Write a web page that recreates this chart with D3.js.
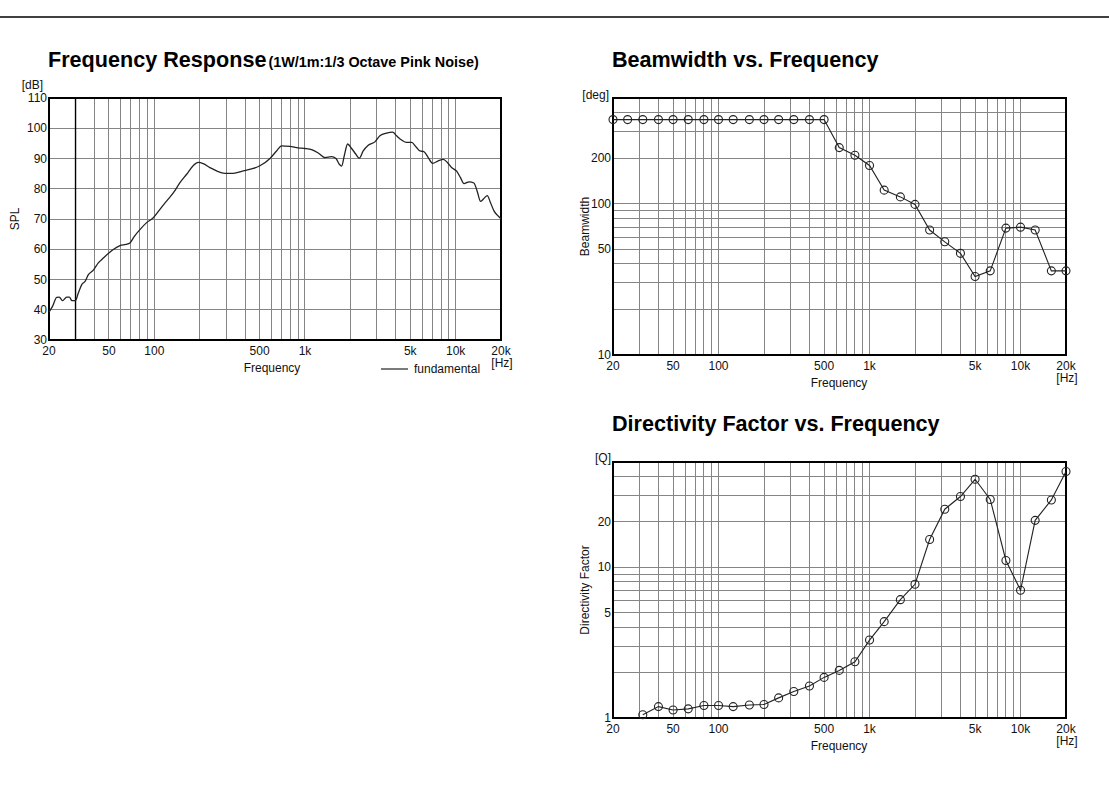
<!DOCTYPE html>
<html><head><meta charset="utf-8">
<script src="https://cdn.jsdelivr.net/npm/d3@7/dist/d3.min.js"></script>
<style>
html,body{margin:0;padding:0;background:#fff;}
svg{display:block;font-family:"Liberation Sans",Arial,sans-serif;}
</style></head>
<body>
<svg id="c" width="1109" height="793"></svg>
<script>
// ---------- DATA ----------
const frHz = [20,21.1,22.5,23.4,24.6,26.2,27.3,28.4,29.9,31.3,33,34.7,36.5,39.4,42.5,45.9,49.5,53.4,59.2,64.9,68.9,73.3,80.3,88.9,98.5,109,121,134,148,164,181,196,211,234,259,294,334,389,454,502,586,648,700,794,902,1000,1107,1225,1357,1502,1606,1689,1751,1823,1918,2040,2178,2291,2435,2630,2912,3142,3482,3818,4057,4380,4727,5103,5450,5795,6155,6577,7030,7659,8273,8844,9400,10150,10790,11350,12300,13220,13900,14640,15490,16200,17070,18040,18890,19860,20000];
const frDb = [39.2,41.1,44.1,44.2,43.0,44.2,44.2,43.0,43.0,45.5,48.3,49.4,51.6,53.1,55.5,57.1,58.6,59.9,61.2,61.6,62.1,64.1,66.5,68.8,70.4,73.2,76.0,78.7,82.0,84.8,87.6,88.7,88.3,87.0,85.9,85.1,85.1,85.9,86.7,87.6,90.0,92.5,94.2,94.0,93.5,93.3,92.9,91.8,90.3,90.6,90.0,88.1,87.5,90.9,94.8,93.3,91.4,90.1,92.5,94.4,95.5,97.5,98.4,98.7,97.5,96.1,95.3,95.3,93.9,92.5,92.3,90.3,88.4,89.2,89.7,88.6,87.0,85.8,83.6,81.7,82.3,81.9,79.2,75.8,76.9,77.7,75.3,72.5,71.3,70.2,70.0];

const bandHz = [20,25,31.5,40,50,63,80,100,125,160,200,250,315,400,500,630,800,1000,1250,1600,2000,2500,3150,4000,5000,6300,8000,10000,12500,16000,20000];
const beamwidthDeg = [360,360,360,360,360,360,360,360,360,360,360,360,360,360,360,235,209,179,123,111,99,67,56,47,33,36,69,70,67,36,36];

const dfHz = [31.5,40,50,63,80,100,125,160,200,250,315,400,500,630,800,1000,1250,1600,2000,2500,3150,4000,5000,6300,8000,10000,12500,16000,20000];
const dfQ = [1.05,1.19,1.13,1.15,1.21,1.21,1.19,1.22,1.23,1.36,1.50,1.63,1.86,2.07,2.36,3.29,4.36,6.1,7.72,15.3,24.3,29.5,38.4,28.2,11.1,7.04,20.5,28.0,43.2];

const freqTicks = [20,50,100,500,1000,5000,10000,20000];
const freqTickLabels = ["20","50","100","500","1k","5k","10k","20k"];
const splTicks = [30,40,50,60,70,80,90,100,110];
const bwTicks = [10,50,100,200];
const dfTicks = [1,5,10,20];

// ---------- HELPERS ----------
const svg = d3.select("#c");
const GRID = "#858585";
const freqGrid = [];
[10,100,1000].forEach(d=>{for(let k=1;k<=9;k++){const v=d*k; if(v>20&&v<20000) freqGrid.push(v);} });
freqGrid.push(10000);

function logGrid(lo,hi){
  const out=[];
  for(let d=Math.pow(10,Math.floor(Math.log10(lo))); d<hi; d*=10)
    for(let k=1;k<=9;k++){const v=d*k; if(v>lo&&v<hi) out.push(v);}
  return out;
}

function drawChart(o){
  const g = svg.append("g");
  const x = o.x, y = o.y;
  const [x0,x1] = x.range(), [y0,y1] = y.range();
  g.append("g").selectAll("line").data(freqGrid).join("line")
    .attr("x1",d=>x(d)).attr("x2",d=>x(d)).attr("y1",y0).attr("y2",y1)
    .attr("stroke",GRID).attr("stroke-width",1).attr("shape-rendering","crispEdges");
  g.append("g").selectAll("line").data(o.yGrid).join("line")
    .attr("x1",x0).attr("x2",x1).attr("y1",d=>y(d)).attr("y2",d=>y(d))
    .attr("stroke",GRID).attr("stroke-width",1).attr("shape-rendering","crispEdges");
  g.append("rect").attr("x",x0).attr("y",y1).attr("width",x1-x0).attr("height",y0-y1)
    .attr("fill","none").attr("stroke","#000").attr("stroke-width",1.3).attr("shape-rendering","crispEdges");
  g.append("g").selectAll("text").data(freqTicks).join("text")
    .attr("x",d=>x(d)).attr("y",y0+15).attr("text-anchor","middle")
    .attr("font-size",12).attr("fill","#111")
    .text((d,i)=>freqTickLabels[i]);
  g.append("text").attr("x",x1+1).attr("y",y0+27).attr("text-anchor","middle")
    .attr("font-size",12).attr("fill","#111").text("[Hz]");
  g.append("g").selectAll("text").data(o.yTicks).join("text")
    .attr("x",x0-2).attr("y",d=>y(d)+4).attr("text-anchor","end")
    .attr("font-size",12).attr("fill","#111").text(d=>d);
  g.append("text").attr("x",o.unitX).attr("y",y1+o.unitDy).attr("text-anchor","end")
    .attr("font-size",12).attr("fill","#111").text(o.unit);
  g.append("text").attr("x",o.xTitleX).attr("y",y0+32).attr("text-anchor","middle")
    .attr("font-size",12).attr("fill","#111").text("Frequency");
  g.append("text").attr("transform",`translate(${o.yTitleX},${(y0+y1)/2}) rotate(-90)`)
    .attr("text-anchor","middle").attr("font-size",12).attr("fill","#111").text(o.yTitle);
  const t = g.append("text").attr("x",x0-1).attr("y",y1-31)
    .attr("font-size",21.6).attr("font-weight","bold").attr("fill","#000").text(o.title);
  if(o.subtitle) t.append("tspan").attr("font-size",14.4).attr("dx",2).text(o.subtitle);
  return g;
}

// ---------- CHART 1: Frequency Response ----------
const x1 = d3.scaleLog().domain([20,20000]).range([49,501]);
const y1 = d3.scaleLinear().domain([30,110]).range([340,98]);
const g1 = drawChart({x:x1,y:y1,yGrid:[40,50,60,70,80,90,100],yTicks:splTicks,unit:"[dB]",unitX:43,unitDy:-9,
  yTitle:"SPL",yTitleX:19,xTitleX:272,title:"Frequency Response",subtitle:"(1W/1m:1/3 Octave Pink Noise)"});
g1.append("line").attr("x1",x1(30)).attr("x2",x1(30)).attr("y1",340).attr("y2",98)
  .attr("stroke","#000").attr("stroke-width",1.4);
g1.append("path").datum(frHz.map((f,i)=>[f,frDb[i]]))
  .attr("fill","none").attr("stroke","#222").attr("stroke-width",1.3)
  .attr("d",d3.line().x(d=>x1(d[0])).y(d=>y1(d[1])).curve(d3.curveMonotoneX));
g1.append("line").attr("x1",381).attr("x2",408).attr("y1",369).attr("y2",369).attr("stroke","#222").attr("stroke-width",1.2);
g1.append("text").attr("x",414).attr("y",373).attr("font-size",12).attr("fill","#111").text("fundamental");

// ---------- CHART 2: Beamwidth ----------
const x2 = d3.scaleLog().domain([20,20000]).range([613,1066]);
const y2 = d3.scaleLog().domain([10,500]).range([355,98]);
const g2 = drawChart({x:x2,y:y2,yGrid:logGrid(10,500),yTicks:bwTicks,unit:"[deg]",unitX:609,unitDy:1,
  yTitle:"Beamwidth",yTitleX:589,xTitleX:839,title:"Beamwidth vs. Frequency"});
const bw = bandHz.map((f,i)=>[f,beamwidthDeg[i]]);
g2.append("path").datum(bw).attr("fill","none").attr("stroke","#222").attr("stroke-width",1.1)
  .attr("d",d3.line().x(d=>x2(d[0])).y(d=>y2(d[1])));
g2.append("g").selectAll("circle").data(bw).join("circle")
  .attr("cx",d=>x2(d[0])).attr("cy",d=>y2(d[1])).attr("r",4)
  .attr("fill","none").attr("stroke","#222").attr("stroke-width",1.1);

// ---------- CHART 3: Directivity ----------
const x3 = d3.scaleLog().domain([20,20000]).range([613,1066]);
const y3 = d3.scaleLog().domain([1,50]).range([718,462]);
const g3 = drawChart({x:x3,y:y3,yGrid:logGrid(1,50),yTicks:dfTicks,unit:"[Q]",unitX:611,unitDy:0,
  yTitle:"Directivity Factor",yTitleX:589,xTitleX:839,title:"Directivity Factor vs. Frequency"});
const df = dfHz.map((f,i)=>[f,dfQ[i]]);
g3.append("path").datum(df).attr("fill","none").attr("stroke","#222").attr("stroke-width",1.1)
  .attr("d",d3.line().x(d=>x3(d[0])).y(d=>y3(d[1])));
g3.append("g").selectAll("circle").data(df).join("circle")
  .attr("cx",d=>x3(d[0])).attr("cy",d=>y3(d[1])).attr("r",4)
  .attr("fill","none").attr("stroke","#222").attr("stroke-width",1.1);

svg.append("line").attr("x1",0).attr("x2",1109).attr("y1",17).attr("y2",17)
  .attr("stroke","#000").attr("stroke-width",1.5);
</script>
</body></html>
